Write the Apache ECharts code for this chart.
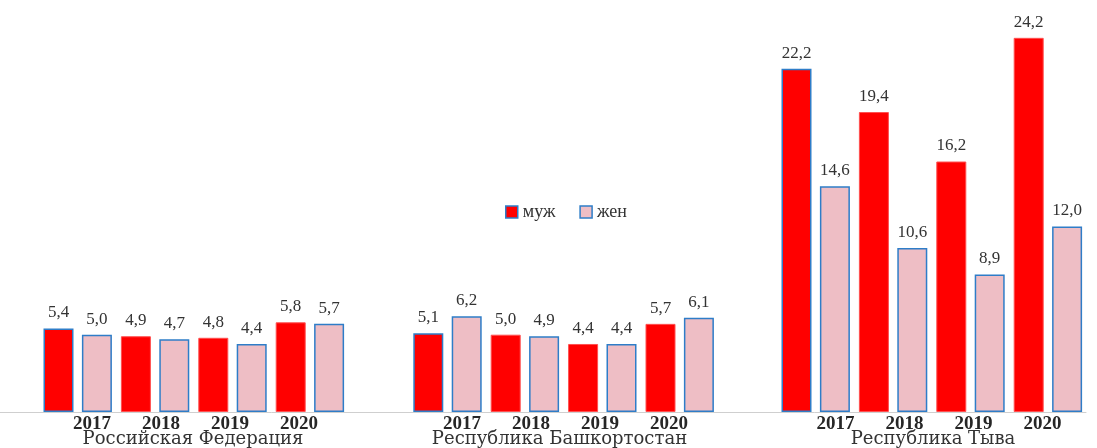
<!DOCTYPE html>
<html><head><meta charset="utf-8">
<script src="https://cdn.jsdelivr.net/npm/echarts@6/dist/echarts.min.js"></script>
<style>html,body{margin:0;padding:0;background:#fff}#c{width:1097px;height:448px}</style>
</head><body><div id="c"></div>
<script>
const years = ['2017', '2018', '2019', '2020'];
const regions = ['Российская Федерация', 'Республика Башкортостан', 'Республика Тыва'];
const seriesNames = ['муж', 'жен'];
const male = [[5.4, 4.9, 4.8, 5.8], [5.1, 5.0, 4.4, 5.7], [22.2, 19.4, 16.2, 24.2]];
const female = [[5.0, 4.7, 4.4, 5.7], [6.2, 4.9, 4.4, 6.1], [14.6, 10.6, 8.9, 12.0]];

const RED = '#ff0000', PINK = '#eebec5', BLUE = '#2e7dc8', RED_BORDER = '#ff5050';
const FONT = 'Liberation Serif';
const barLeft = [39, 408.8, 777];
const labelLeft = [57.5, 427.5, 801];
const namePad = [5, 12, 12];
const TOP = 10, H = 402;

const grid = [{left: 0, width: 1086, top: TOP, height: H, outerBoundsMode: 'none'}];
const xAxis = [{gridIndex: 0, type: 'value', min: 0, max: 1,
  axisLine: {show: true, lineStyle: {color: '#cfcfcf', width: 1}},
  axisTick: {show: false}, axisLabel: {show: false}, splitLine: {show: false}}];
const yAxis = [{gridIndex: 0, type: 'value', show: false}];
const series = [];
const fmt = p => p.value.toFixed(1).replace('.', ',');
const lbl = {show: true, position: 'top', distance: 7, formatter: fmt,
  fontFamily: FONT, fontSize: 17, color: '#333333'};

for (let g = 0; g < 3; g++) {
  grid.push({left: barLeft[g], width: 309.6, top: TOP, height: H, outerBoundsMode: 'none'});
  const bi = grid.length - 1;
  xAxis.push({gridIndex: bi, type: 'category', data: years, show: false});
  yAxis.push({gridIndex: bi, type: 'value', min: 0, max: 26, show: false});
  series.push({
    name: seriesNames[0], type: 'bar', xAxisIndex: bi, yAxisIndex: bi,
    barWidth: 30, barGap: '28%',
    itemStyle: {color: RED, borderColor: RED_BORDER, borderWidth: 1},
    label: lbl,
    data: male[g].map((v, i) => i === 0 ? {value: v, itemStyle: {borderColor: BLUE, borderWidth: 1.5}} : v)
  });
  series.push({
    name: seriesNames[1], type: 'bar', xAxisIndex: bi, yAxisIndex: bi,
    barWidth: 30, barGap: '28%',
    itemStyle: {color: PINK, borderColor: BLUE, borderWidth: 1.5},
    label: lbl,
    data: female[g]
  });
}
for (let g = 0; g < 3; g++) {
  grid.push({left: labelLeft[g], width: 276, top: TOP, height: H, outerBoundsMode: 'none'});
  const li = grid.length - 1;
  xAxis.push({gridIndex: li, type: 'category', data: years,
    axisLine: {show: false, onZero: false}, axisTick: {show: false},
    axisLabel: {margin: 3, fontFamily: FONT, fontWeight: 'bold', fontSize: 19, color: '#262626'},
    name: regions[g], nameLocation: 'middle', nameGap: 18, nameMoveOverlap: false,
    nameTextStyle: {fontFamily: 'DejaVu Serif', fontSize: 18, color: '#333333', padding: [0, namePad[g], 0, 0]}});
  yAxis.push({gridIndex: li, type: 'value', show: false});
}

const chart = echarts.init(document.getElementById('c'), null, {renderer: 'canvas'});
chart.setOption({
  animation: false,
  backgroundColor: '#ffffff',
  legend: {
    left: 500, top: 198, itemWidth: 12, itemHeight: 12, itemGap: 24,
    textStyle: {fontFamily: FONT, fontSize: 18, color: '#333333'},
    data: [
      {name: seriesNames[0], icon: 'rect', itemStyle: {color: RED, borderColor: BLUE, borderWidth: 1.5}},
      {name: seriesNames[1], icon: 'rect', itemStyle: {color: PINK, borderColor: BLUE, borderWidth: 1.5}}
    ]
  },
  grid, xAxis, yAxis, series
});
</script>
</body></html>
